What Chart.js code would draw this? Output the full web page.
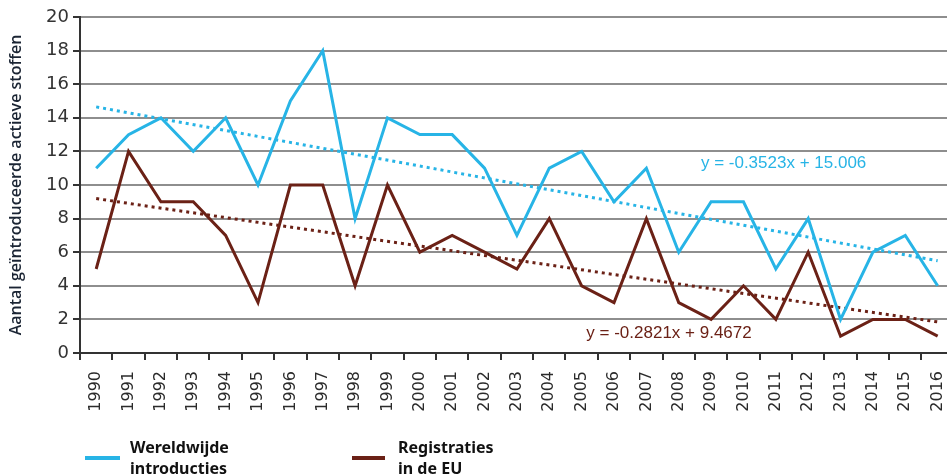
<!DOCTYPE html>
<html><head><meta charset="utf-8">
<script src="https://cdn.jsdelivr.net/npm/chart.js@4/dist/chart.umd.min.js"></script>
<style>
html,body{margin:0;padding:0;background:#fff;overflow:hidden;width:947px;height:476px;}
#wrap{position:absolute;left:0;top:0;width:968px;height:476px;}
.leg{position:absolute;font-family:"Noto Sans",sans-serif;font-weight:bold;font-size:16px;line-height:21px;color:#111;}
.sw{position:absolute;height:4px;}
</style></head><body>
<div id="wrap"><canvas id="c" width="968" height="476"></canvas></div>
<div class="sw" style="left:85px;top:456px;width:35px;background:#27b4e6"></div>
<div class="leg" style="left:130px;top:437px">Wereldwijde<br>introducties</div>
<div class="sw" style="left:352px;top:456px;width:33px;background:#6b2116"></div>
<div class="leg" style="left:398px;top:437px">Registraties<br>in de EU</div>
<script>
const years = ['1990','1991','1992','1993','1994','1995','1996','1997','1998','1999','2000','2001','2002','2003','2004','2005','2006','2007','2008','2009','2010','2011','2012','2013','2014','2015','2016'];
const worldwide = [11,13,14,12,14,10,15,18,8,14,13,13,11,7,11,12,9,11,6,9,9,5,8,2,6,7,4];
const euRegistrations = [5,12,9,9,7,3,10,10,4,10,6,7,6,5,8,4,3,8,3,2,4,2,6,1,2,2,1];
// trendline values read at 1990 and 2016
const worldTrendEnds = [14.65, 5.49];
const euTrendEnds = [9.19, 1.85];
const worldEquation = 'y = -0.3523x + 15.006';
const euEquation = 'y = -0.2821x + 9.4672';
const yTicks = [0,2,4,6,8,10,12,14,16,18,20];

const BLUE = '#27b4e6', BROWN = '#6b2116';
function trendSeries(ends){
  const arr = years.map(()=>null);
  arr[0] = ends[0]; arr[arr.length-1] = ends[1];
  return arr;
}
const annot = {
  id:'annot',
  afterDatasetsDraw(chart){
    const {ctx, scales:{x,y}} = chart;
    ctx.save();
    ctx.font = '17px "Liberation Sans", sans-serif';
    ctx.textAlign = 'center'; ctx.textBaseline = 'middle';
    ctx.fillStyle = BLUE;
    ctx.fillText(worldEquation, x.getPixelForValue(21.24), y.getPixelForValue(11.3));
    ctx.fillStyle = BROWN;
    ctx.fillText(euEquation, x.getPixelForValue(17.7), y.getPixelForValue(1.17));
    ctx.restore();
  }
};
new Chart(document.getElementById('c'), {
  type:'line',
  data:{labels:years, datasets:[
    {label:'Wereldwijde introducties', data:worldwide, borderColor:BLUE, borderWidth:3, pointRadius:0, tension:0},
    {label:'Registraties in de EU', data:euRegistrations, borderColor:BROWN, borderWidth:3, pointRadius:0, tension:0},
    {label:'trend wereld', data:trendSeries(worldTrendEnds), borderColor:BLUE, borderWidth:3, borderDash:[3,4], pointRadius:0, spanGaps:true},
    {label:'trend EU', data:trendSeries(euTrendEnds), borderColor:BROWN, borderWidth:3, borderDash:[3,4], pointRadius:0, spanGaps:true}
  ]},
  options:{
    responsive:false, animation:false, devicePixelRatio:1,
    layout:{padding:{left:7, top:17, right:7.5, bottom:58}},
    plugins:{legend:{display:false}, tooltip:{enabled:false}},
    scales:{
      x:{type:'category', offset:true,
        grid:{offset:true, drawOnChartArea:false, tickLength:7, tickColor:'#333', lineWidth:2},
        border:{color:'#333', width:2},
        ticks:{minRotation:90, maxRotation:90, autoSkip:false, color:'#2b2b2b', padding:11, font:{family:'"DejaVu Sans", sans-serif', size:16}},
        afterFit(s){ s.height = 65; }
      },
      y:{min:0, max:20,
        afterBuildTicks(s){ s.ticks = yTicks.map(v=>({value:v})); },
        grid:{color:'#8e8e8e', lineWidth:2, tickLength:7, tickColor:'#333'},
        border:{color:'#333', width:2},
        ticks:{color:'#333', padding:4, font:{family:'"DejaVu Sans", sans-serif', size:18}},
        title:{display:true, text:'Aantal geïntroduceerde actieve stoffen', color:'#1a2433', padding:{top:0,bottom:4}, font:{family:'"Open Sans", sans-serif', size:16, weight:'600'}},
        afterFit(s){ s.width = 73; }
      }
    }
  },
  plugins:[annot]
});
</script>
</body></html>
